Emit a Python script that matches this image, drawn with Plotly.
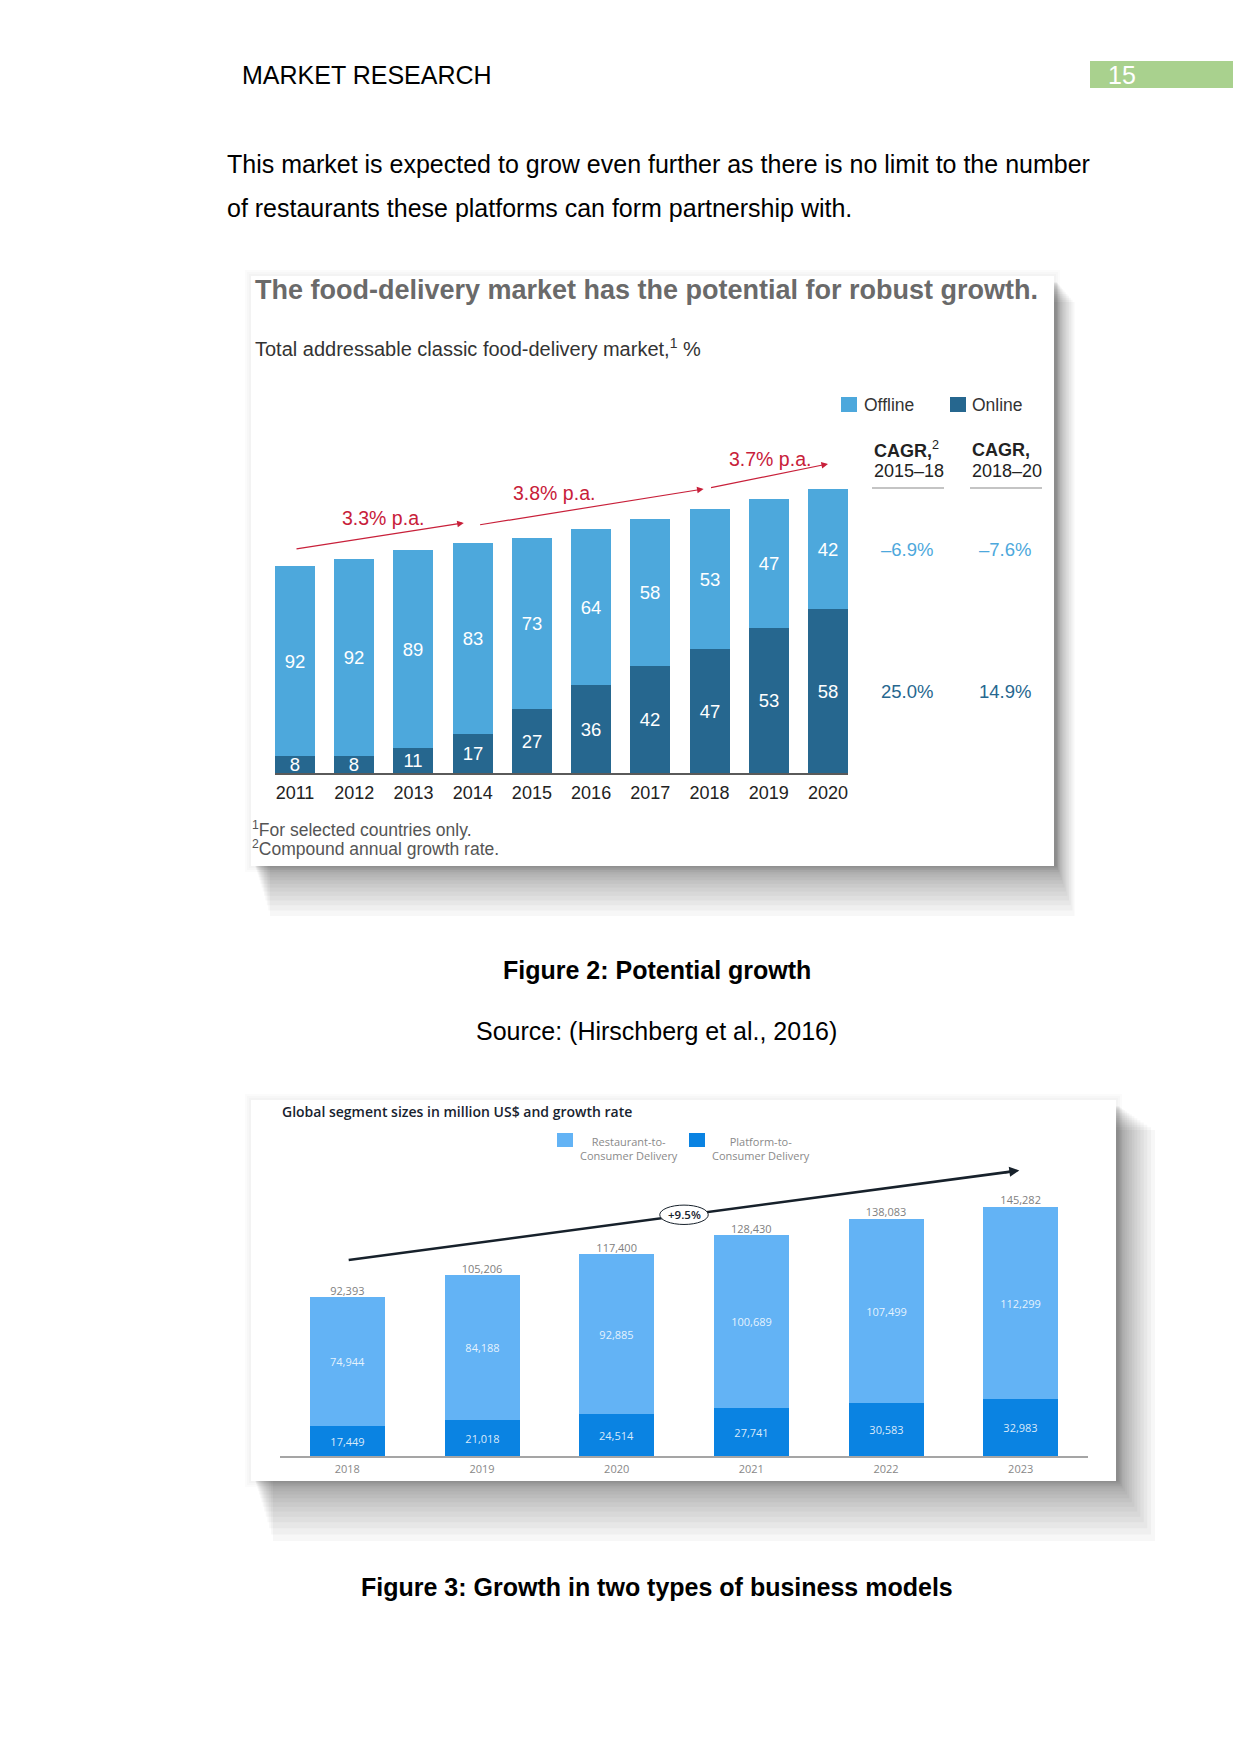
import plotly.graph_objects as go

W, H = 1241, 1754
PAD = 8  # the page body has an 8px margin round the plot
FW, FH = W - PAD, H - 3 * PAD  # keep the page short enough that no scrollbar appears

# ---- chart 1 data (share of market, %) ----
years1 = [2011, 2012, 2013, 2014, 2015, 2016, 2017, 2018, 2019, 2020]
offline_share = [92, 92, 89, 83, 73, 64, 58, 53, 47, 42]
online_share = [8, 8, 11, 17, 27, 36, 42, 47, 53, 58]
market_index = [100, 103.6, 107.9, 111.1, 113.7, 117.7, 122.7, 127.3, 132.3, 137.0]  # 2011 = 100
growth_labels = ["3.3% p.a.", "3.8% p.a.", "3.7% p.a."]
cagr_headers = [("CAGR,", "2", "2015–18"), ("CAGR,", "", "2018–20")]
cagr_offline = ["–6.9%", "–7.6%"]
cagr_online = ["25.0%", "14.9%"]

# ---- chart 2 data (million US$) ----
years2 = [2018, 2019, 2020, 2021, 2022, 2023]
restaurant = [74944, 84188, 92885, 100689, 107499, 112299]
platform = [17449, 21018, 24514, 27741, 30583, 32983]
totals = [92393, 105206, 117400, 128430, 138083, 145282]
growth2 = "+9.5%"

OFF_C, ON_C = "#4DA8DC", "#26678F"
R2C_C, P2C_C = "#63B3F5", "#0A83E2"
RED = "#C8203A"
F1 = "Liberation Sans"
F2 = "Open Sans"


def fx(x):
    return (x - PAD) / FW


def fy(y):
    return 1 - (y - PAD) / FH


fig = go.Figure()


def txt(x, y, s, size, color="#000", anchor="left", family=F1, weight=None):
    font = dict(size=size, color=color, family=family)
    if weight:
        font["weight"] = weight
    fig.add_annotation(x=fx(x), y=fy(y), xref="paper", yref="paper", text=s,
                       showarrow=False, xanchor=anchor, yanchor="middle", font=font)


def rect(x0, y0, x1, y1, color, opacity=1.0, layer="below"):
    fig.add_shape(type="rect", xref="paper", yref="paper", x0=fx(x0), x1=fx(x1),
                  y0=fy(y1), y1=fy(y0), fillcolor=color, opacity=opacity,
                  line_width=0, layer=layer)


def card(x0, y0, x1, y1, spread=55, side=0.5):
    # faint halo all round
    for k in range(1, 4):
        rect(x0 - k * 2, y0 - k * 2, x1 + k * 2, y1 + k * 2, "black", 0.015)
    # soft drop shadow, dense near the card edge
    n = 16
    for k in range(1, n + 1):
        off = spread * (k / n) ** 1.8
        rect(x0 + 4 + off * 0.3, y0 + 6 + off * 0.4, x1 + 3 + off * side, y1 + off,
             "black", 0.032)
    rect(x0, y0, x1, y1, "white")


# ---- page text ----
txt(240, 75, "MARKET RESEARCH", 25)
rect(1090, 61, 1241, 88, "#A9D18E")
txt(1106, 75, "15", 25, "white")
txt(225, 164, "This market is expected to grow even further as there is no limit to the number", 25)
txt(225, 208, "of restaurants these platforms can form partnership with.", 25)
txt(657, 970, "<b>Figure 2: Potential growth</b>", 25, anchor="center")
txt(657, 1031, "Source: (Hirschberg et al., 2016)", 25, anchor="center")
txt(657, 1587, "<b>Figure 3: Growth in two types of business models</b>", 25, anchor="center")

# ---- chart 1 ----
card(251, 276, 1054, 866, spread=50, side=0.35)
txt(253, 290, "<b>The food-delivery market has the potential for robust growth.</b>", 27, "#6a6a6a")
txt(253, 347, "Total addressable classic food-delivery market,<sup>1</sup> %", 20, "#333")
rect(841, 397, 857, 412, OFF_C)
txt(862, 405, "Offline", 17.5, "#333")
rect(950, 397, 966, 412, ON_C)
txt(970, 405, "Online", 17.5, "#333")

online_h = [s * m / 100 for s, m in zip(online_share, market_index)]
offline_h = [s * m / 100 for s, m in zip(offline_share, market_index)]
for name, hs, shares, col in [("Online", online_h, online_share, ON_C),
                              ("Offline", offline_h, offline_share, OFF_C)]:
    fig.add_trace(go.Bar(x=years1, y=hs, name=name, marker=dict(color=col, line_width=0),
                         text=shares, textposition="inside", insidetextanchor="middle",
                         textangle=0, constraintext="none",
                         textfont=dict(size=18.5, color="white", family=F1),
                         width=0.675, xaxis="x", yaxis="y", showlegend=False,
                         hoverinfo="skip"))

# growth arrows (tail x, tail y, head x, head y) and label spots, in data units
arrows1 = [(2011.0, 108.2, 2013.85, 120.8), (2014.1, 119.8, 2017.9, 137.2), (2018.0, 137.7, 2020.0, 149.3)]
label_pos1 = [(2012.49, 123.2), (2015.38, 135.3), (2019.02, 151.7)]
for (ax, ay, hx, hy), (lx, ly), lab in zip(arrows1, label_pos1, growth_labels):
    fig.add_annotation(x=hx, y=hy, ax=ax, ay=ay, xref="x", yref="y", axref="x", ayref="y",
                       showarrow=True, arrowhead=2, arrowsize=1.1, arrowwidth=1.2,
                       arrowcolor=RED, text="")
    fig.add_annotation(x=lx, y=ly, xref="x", yref="y", text=lab, showarrow=False,
                       font=dict(size=19.5, color=RED, family=F1))

# CAGR table
for cx, (h1, sup, h2), v_off, v_on in zip([872, 970], cagr_headers, cagr_offline, cagr_online):
    head = f"<b>{h1}</b>" + (f"<sup>{sup}</sup>" if sup else "")
    txt(cx, 450, head, 18, "#222")
    txt(cx, 471, h2, 18, "#222")
    fig.add_shape(type="line", xref="paper", yref="paper", x0=fx(cx), x1=fx(cx + 72),
                  y0=fy(488), y1=fy(488), line=dict(color="#8a8a8a", width=1.2))
    txt(cx + 35, 549, v_off, 18.5, OFF_C, anchor="center")
    txt(cx + 35, 691, v_on, 18.5, ON_C, anchor="center")

txt(250, 829, "<sup>1</sup>For selected countries only.", 17.5, "#555")
txt(250, 848, "<sup>2</sup>Compound annual growth rate.", 17.5, "#555")

# ---- chart 2 ----
card(251, 1100, 1116, 1481, spread=60, side=0.6)
txt(280, 1111, "Global segment sizes in million US$ and growth rate", 14, "#18232f",
    family=F2, weight=600)
rect(557, 1133, 573, 1147, R2C_C)
txt(629, 1148, "Restaurant-to-<br>Consumer Delivery", 11, "#8a8a8a", anchor="center", family=F2)
rect(689, 1133, 705, 1147, P2C_C)
txt(761, 1148, "Platform-to-<br>Consumer Delivery", 11, "#8a8a8a", anchor="center", family=F2)

for name, vals, col in [("Platform-to-Consumer Delivery", platform, P2C_C),
                        ("Restaurant-to-Consumer Delivery", restaurant, R2C_C)]:
    fig.add_trace(go.Bar(x=years2, y=vals, name=name, marker=dict(color=col, line_width=0),
                         text=[f"{v:,}" for v in vals], textposition="inside",
                         insidetextanchor="middle", textangle=0, constraintext="none",
                         textfont=dict(size=11, color="rgba(255,255,255,0.85)", family=F2),
                         width=0.557, xaxis="x2", yaxis="y2", showlegend=False,
                         hoverinfo="skip"))
fig.add_trace(go.Scatter(x=years2, y=totals, mode="text", text=[f"{v:,}" for v in totals],
                         textposition="top center",
                         textfont=dict(size=11, color="#808080", family=F2),
                         xaxis="x2", yaxis="y2", showlegend=False, hoverinfo="skip"))

# overall growth line with oval label
g0, g1 = (2018.01, 114300), (2022.99, 166500)
fig.add_shape(type="line", xref="x2", yref="y2", x0=g0[0], y0=g0[1], x1=g1[0] - 0.05,
              y1=g1[1] - 520, line=dict(color="#17212b", width=2.6), layer="above")
fig.add_annotation(x=g1[0], y=g1[1], ax=g1[0] - 0.12, ay=g1[1] - 1260, xref="x2", yref="y2",
                   axref="x2", ayref="y2", showarrow=True, arrowhead=2, arrowsize=1,
                   arrowwidth=2, arrowcolor="#17212b", text="")
fig.add_shape(type="circle", xref="x2", yref="y2", x0=2020.32, x1=2020.68, y0=135000,
              y1=146300, fillcolor="white", line=dict(color="#17212b", width=1), layer="above")
fig.add_annotation(x=2020.5, y=140650, xref="x2", yref="y2", text=growth2, showarrow=False,
                   font=dict(size=11.5, color="#17212b", family=F2, weight=600))

fig.update_layout(
    width=FW, height=FH, margin=dict(l=0, r=0, t=0, b=0),
    paper_bgcolor="white", plot_bgcolor="rgba(0,0,0,0)",
    barmode="stack", bargap=0,
    xaxis=dict(domain=[fx(275), fx(848)], range=[2011 - 0.3378, 2020 + 0.3378],
               tickvals=years1, ticks="", showgrid=False, zeroline=False,
               showline=True, linecolor="#5a5a5a", linewidth=1.5, ticklabelstandoff=3,
               tickfont=dict(size=18, color="#222", family=F1), anchor="y"),
    yaxis=dict(domain=[fy(773), fy(400)], range=[0, 180.19], visible=False, anchor="x"),
    xaxis2=dict(domain=[fx(280), fx(1088)], range=[2017.5, 2023.5],
                tickvals=years2, ticks="", showgrid=False, zeroline=False,
                showline=True, linecolor="#a5a5a5", linewidth=2, ticklabelstandoff=2,
                tickfont=dict(size=11, color="#888", family=F2), anchor="y2"),
    yaxis2=dict(domain=[fy(1456), fy(1147.3)], range=[0, 180000], visible=False, anchor="x2"),
    hovermode=False,
)

fig.write_html("out.html")
